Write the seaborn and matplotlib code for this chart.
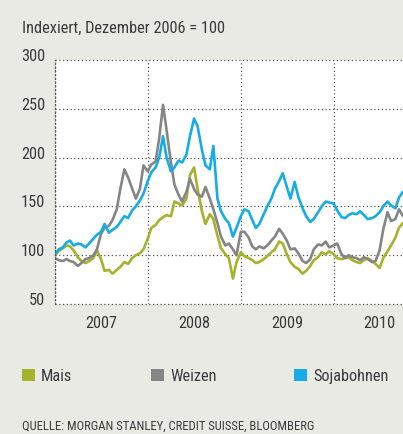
import numpy as np
import pandas as pd
import matplotlib
matplotlib.use("Agg")
import matplotlib.pyplot as plt
import matplotlib.dates as mdates
from matplotlib.patches import Patch
from matplotlib import font_manager
import seaborn as sns

# ---- data (semi-monthly readings, index Dec 2006 = 100) ----
dates = pd.date_range("2007-01-01", periods=91, freq="SMS")

mais = [100, 104, 107, 110, 109, 105, 98, 94, 92, 94, 97, 105, 96, 84, 85, 81, 85, 88, 93, 91, 97, 100, 102, 106, 117,
        128, 131, 136, 139, 141, 140, 155, 153, 151, 158, 182, 190, 168, 145, 132, 142, 137, 120, 107, 101, 97, 76, 93, 103,
        99, 97, 95, 92, 93, 96, 99, 103, 106, 114, 112, 101, 93, 88, 86, 81, 84, 89, 95, 98, 103, 101, 104, 101,
        97, 96, 97, 98, 95, 93, 92, 95, 97, 94, 91, 87, 97, 104, 110, 118, 128, 133]

weizen = [97, 95, 94, 96, 94, 93, 89, 92, 96, 97, 100, 106, 122, 128, 130, 136, 147, 168, 188, 180, 168, 158, 168, 192, 186,
          193, 196, 220, 254, 228, 195, 172, 162, 155, 165, 178, 168, 162, 160, 170, 158, 147, 133, 119, 110, 112, 106, 100, 124,
          124, 118, 109, 106, 109, 107, 110, 115, 119, 127, 122, 115, 106, 107, 102, 94, 92, 96, 106, 111, 110, 114, 108, 110,
          112, 101, 97, 100, 98, 97, 95, 98, 96, 93, 94, 105, 126, 144, 135, 137, 147, 140]

soja = [100, 106, 108, 113, 115, 110, 112, 111, 108, 112, 117, 121, 124, 132, 123, 126, 129, 134, 140, 138, 146, 150, 156, 163, 176,
        185, 190, 200, 222, 200, 186, 190, 197, 195, 203, 222, 240, 232, 208, 192, 188, 212, 158, 145, 137, 133, 119, 128, 140,
        147, 145, 136, 128, 132, 142, 150, 158, 168, 176, 184, 170, 158, 175, 160, 148, 140, 134, 137, 144, 150, 155, 154, 153,
        146, 139, 138, 141, 143, 142, 145, 141, 137, 138, 140, 144, 150, 155, 151, 148, 159, 165]

series_names = ["Mais", "Weizen", "Sojabohnen"]
colors = ["#A5B22C", "#858585", "#16ADE6"]
y_ticks = [50, 100, 150, 200, 250, 300]
title = "Indexiert, Dezember 2006 = 100"
source = "QUELLE: MORGAN STANLEY, CREDIT SUISSE, BLOOMBERG"

# ---- style ----
sns.set_theme(style="white")
avail = {f.name for f in font_manager.fontManager.ttflist}
fam = next((f for f in ["Liberation Sans Narrow", "Roboto Condensed", "DejaVu Sans Condensed"] if f in avail),
           "Liberation Sans")
plt.rcParams["font.family"] = [fam, "DejaVu Sans"]

BG = "#EAEAE5"
TXT = "#3A3A3A"
FS = 11.75
W, H = 403, 435
fig = plt.figure(figsize=(W / 100, H / 100), dpi=100, facecolor=BG)
ax = fig.add_axes([55 / W, 1 - 305 / H, 348 / W, 244 / H])
ax.set_facecolor("white")

df = pd.DataFrame({
    "Datum": np.tile(dates, 3),
    "Index": np.array(mais + weizen + soja, dtype=float),
    "Rohstoff": np.repeat(series_names, len(dates)),
})
sns.lineplot(data=df, x="Datum", y="Index", hue="Rohstoff", hue_order=series_names,
             palette=dict(zip(series_names, colors)), linewidth=1.9, estimator=None,
             legend=False, ax=ax)

ax.set_xlim(pd.Timestamp("2007-01-01"), pd.Timestamp("2010-10-01"))
ax.set_ylim(50, 300)
ax.set_xlabel("")
ax.set_ylabel("")

dot = (0, (1, 2))
ax.set_yticks(y_ticks)
ax.yaxis.grid(True, linestyle=dot, color="#555555", linewidth=0.9)
ax.xaxis.set_major_locator(mdates.MonthLocator(bymonth=7))
ax.xaxis.set_major_formatter(mdates.DateFormatter("%Y"))
ax.xaxis.set_minor_locator(mdates.YearLocator())
ax.xaxis.grid(True, which="minor", linestyle=dot, color="#555555", linewidth=0.9)
ax.xaxis.grid(False, which="major")
for gl in ax.get_ygridlines():
    gl.set_clip_on(False)

for s in ["top", "right", "bottom"]:
    ax.spines[s].set_visible(False)
ax.spines["left"].set_linestyle(dot)
ax.spines["left"].set_color("#555555")
ax.spines["left"].set_linewidth(0.9)

ax.tick_params(axis="y", length=0, pad=7, labelsize=FS, labelcolor=TXT)
ax.tick_params(axis="x", which="both", length=0, pad=8, labelsize=FS, labelcolor=TXT)
for t in ax.get_yticklabels():
    t.set_va("baseline")

fig.text(22 / W, 1 - 33 / H, title, ha="left", va="baseline", fontsize=FS, color=TXT)

# legend: one entry per anchor position
leg_x = [22, 151, 294]
for n, c, lx in zip(series_names, colors, leg_x):
    leg = fig.legend(handles=[Patch(facecolor=c, edgecolor="none", label=n)], loc="center left",
                     bbox_to_anchor=(lx / W, 1 - 377 / H), frameon=False,
                     handlelength=0.8, handleheight=0.8, handletextpad=0.37,
                     borderpad=0, borderaxespad=0, fontsize=FS)
    for t in leg.get_texts():
        t.set_color(TXT)

fig.text(22 / W, 1 - 430 / H, source, ha="left", va="baseline", fontsize=9.1, color=TXT)

fig.savefig("out.png", dpi=100, facecolor=BG)
